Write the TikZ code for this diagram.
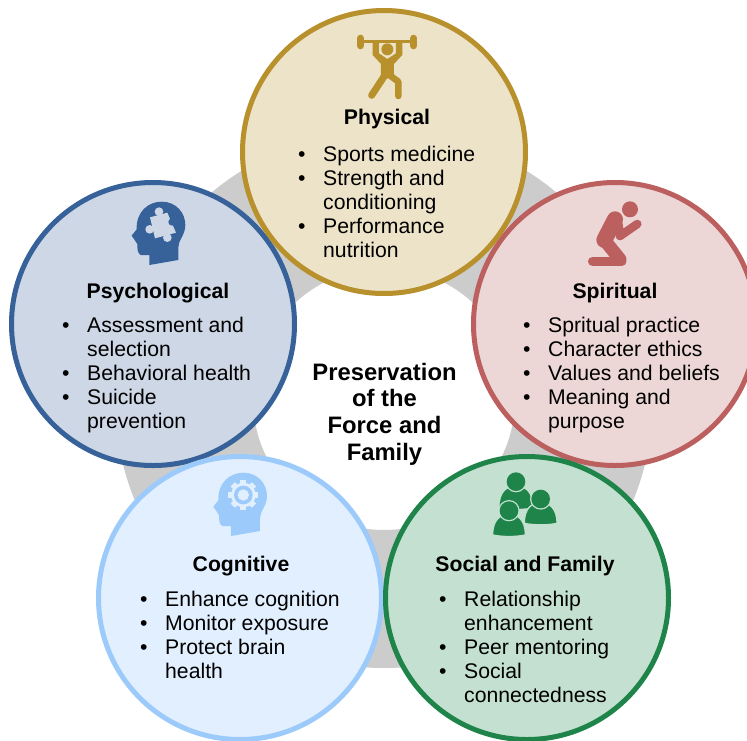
\documentclass[tikz,border=0pt]{standalone}
\usepackage{fontspec}
\setmainfont{Liberation Sans}
\definecolor{physfill}{HTML}{ECE3C9}\definecolor{physline}{HTML}{B8902C}
\definecolor{spirfill}{HTML}{EDD6D6}\definecolor{spirline}{HTML}{BC5F5F}
\definecolor{psycfill}{HTML}{CDD7E5}\definecolor{psycline}{HTML}{366199}
\definecolor{cognfill}{HTML}{E1EFFE}\definecolor{cognline}{HTML}{9CCBFB}
\definecolor{socifill}{HTML}{C4E0D0}\definecolor{sociline}{HTML}{1E8449}
\definecolor{ringgray}{HTML}{CCCCCC}
\newcommand{\bodyfont}{\fontsize{21.2}{24}\selectfont}
\newcommand{\itemrow}[1]{\textbullet & #1 \\}
\newcommand{\controw}[1]{ & #1 \\}
\newcommand{\headshape}{(118,225) -- (118,195) -- (92,195) .. controls (82,190) and (82,175) .. (82,162) -- (65,137) -- (80,118) .. controls (78,65) and (115,35) .. (155,35) .. controls (200,35) and (226,70) .. (226,105) .. controls (226,135) and (205,150) .. (205,172) -- (205,210) -- cycle}
\newcommand{\personshape}{(-49,60) .. controls (-49,15) and (-27,-2) .. (0,-2) .. controls (27,-2) and (49,15) .. (49,60) .. controls (20,66) and (-20,66) .. (-49,60) -- cycle}
\tikzset{
  disc/.style={circle,minimum size=283pt,inner sep=0pt,line width=5pt,draw=#1line,fill=#1fill},
  title/.style={font=\bodyfont\bfseries,inner sep=0pt,anchor=center},
  itemlist/.style={font=\bodyfont,inner sep=0pt,anchor=north west},
  centre/.style={font=\fontsize{23.8}{26.7}\selectfont\bfseries,align=center,inner sep=0pt},
  iconscope/.style={x=0.3333pt,y=-0.3333pt}
}
\begin{document}
\begin{tikzpicture}[x=1pt,y=-1pt]
\useasboundingbox (0,0) rectangle (747,740);
\clip (0,0) rectangle (747,740);
\fill[white] (0,0) rectangle (747,740);
\draw[ringgray,line width=138pt] (384,399) circle[radius=200];
\node[disc=psyc] (psychological) at (153,324) {};
\node[disc=spir] (spiritual) at (615,324) {};
\node[disc=phys] (physical) at (384,152) {};
\node[disc=cogn] (cognitive) at (240,598) {};
\node[disc=soci] (social) at (527,598) {};
% titles
\node[title] (t1) at (387,119) {Physical};
\node[title] (t2) at (615,293) {Spiritual};
\node[title] (t3) at (158,293) {Psychological};
\node[title] (t4) at (241,566) {Cognitive};
\node[title] (t5) at (525,566) {Social and Family};
% lists
\node[itemlist] (l1) at (298,144) {\begin{tabular}{@{}p{25pt}@{}l@{}}\itemrow{Sports medicine}\itemrow{Strength and}\controw{conditioning}\itemrow{Performance}\controw{nutrition}\end{tabular}};
\node[itemlist] (l2) at (523,315) {\begin{tabular}{@{}p{25pt}@{}l@{}}\itemrow{Spritual practice}\itemrow{Character ethics}\itemrow{Values and beliefs}\itemrow{Meaning and}\controw{purpose}\end{tabular}};
\node[itemlist] (l3) at (62,315) {\begin{tabular}{@{}p{25pt}@{}l@{}}\itemrow{Assessment and}\controw{selection}\itemrow{Behavioral health}\itemrow{Suicide}\controw{prevention}\end{tabular}};
\node[itemlist] (l4) at (140,589) {\begin{tabular}{@{}p{25pt}@{}l@{}}\itemrow{Enhance cognition}\itemrow{Monitor exposure}\itemrow{Protect brain}\controw{health}\end{tabular}};
\node[itemlist] (l5) at (439,589) {\begin{tabular}{@{}p{25pt}@{}l@{}}\itemrow{Relationship}\controw{enhancement}\itemrow{Peer mentoring}\itemrow{Social}\controw{connectedness}\end{tabular}};
\node[centre] (c) at (384.5,414) {Preservation\\of the\\Force and\\Family};
% lifter
\begin{scope}[shift={(330,20)},iconscope,physline]
\draw[line width=3.3pt] (90,65) -- (250,65);
\draw[line width=7.3pt,line cap=round] (91,55) -- (91,77);
\draw[line width=7.3pt,line cap=round] (251,55) -- (251,77);
\fill (172,88) circle[radius=18];
\fill (128,65) -- (128,105) -- (153,132) -- (153,175) -- (192,175) -- (192,132) -- (217,105) -- (217,65) -- (198,65) -- (198,100) -- (172,117) -- (147,100) -- (147,65) -- cycle;
\draw[line width=7pt,line cap=round] (165,165) -- (125,226);
\draw[line width=6.5pt,line cap=round,line join=round] (178,165) -- (205,185) -- (205,228);
\end{scope}
% kneeling figure
\begin{scope}[shift={(570,190)},iconscope,spirline]
\fill (180,58) circle[radius=24];
\draw[line width=16pt,line cap=round] (135,88) -- (103,150);
\draw[line width=13pt,line cap=round] (103,150) -- (150,208);
\draw[line width=9.5pt,line cap=round] (68,214) -- (155,214);
\draw[line width=8.5pt,line cap=round,line join=round] (145,100) -- (150,138) -- (202,102);
\end{scope}
% head with puzzle
\begin{scope}[shift={(110,190)},iconscope]
\fill[psycline] \headshape;
\fill[psycfill] (120,82) -- (172,68) -- (198,128) -- (135,145) -- cycle;
\fill[psycfill] (147,65) circle[radius=13];
\fill[psycfill] (119,118) circle[radius=13];
\fill[psycfill] (172,143) circle[radius=13];
\fill[psycline] (186,96) circle[radius=11];
\end{scope}
% head with gear
\begin{scope}[shift={(195,460)},iconscope]
\begin{scope}[shift={(-10,3)}]
\fill[cognline] \headshape;
\end{scope}
\foreach \a in {0,45,...,315}{\fill[cognfill,rotate around={\a:(145,105)}] (136,60) rectangle (154,75);}
\fill[cognfill] (145,105) circle[radius=37];
\fill[cognline] (145,105) circle[radius=28];
\fill[cognfill] (145,105) circle[radius=17];
\end{scope}
% people
\begin{scope}[shift={(480,460)},iconscope]
\begin{scope}[shift={(108,82)}]
\fill[sociline] \personshape;
\fill[sociline] (-40,55) -- (0,66) -- (40,55) -- cycle;
\fill[socifill] (0,-17) circle[radius=32];
\fill[sociline] (0,-17) circle[radius=28];
\end{scope}
\begin{scope}[shift={(182,130)}]
\fill[sociline,draw=socifill,line width=1.3pt] \personshape;
\fill[socifill] (0,-13) circle[radius=32];
\fill[sociline] (0,-13) circle[radius=28];
\end{scope}
\begin{scope}[shift={(87,165)}]
\fill[sociline,draw=socifill,line width=1.3pt] \personshape;
\fill[socifill] (0,-13) circle[radius=32];
\fill[sociline] (0,-13) circle[radius=28];
\end{scope}
\end{scope}
\end{tikzpicture}
\end{document}
